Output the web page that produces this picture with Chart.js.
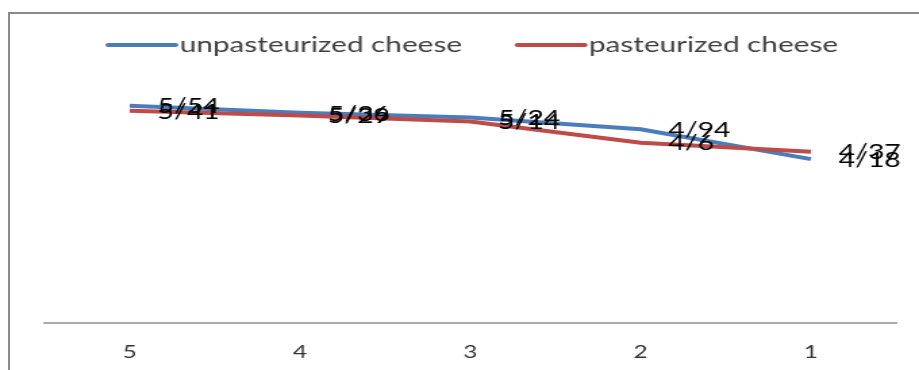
<!DOCTYPE html>
<html>
<head>
<meta charset="utf-8">
<script src="https://cdn.jsdelivr.net/npm/chart.js@4"></script>
<style>
  html, body { margin: 0; padding: 0; background: #fff; overflow: hidden; }
  #frame {
    position: absolute; left: 8px; top: 12px; width: 2000px; height: 2000px;
    border-left: 2px solid #8a8a8a; border-top: 2px solid #8a8a8a;
  }
  /* drawn narrow, then stretched sideways like the original picture */
  #wrap {
    position: absolute; left: 0; top: 0; width: 680px; height: 370px;
    transform: scaleX(1.3515); transform-origin: 0 0;
  }
</style>
</head>
<body>
<div id="frame"></div>
<div id="wrap"><canvas id="c" width="680" height="370" style="width:680px;height:370px"></canvas></div>
<script>
const categories = ['5', '4', '3', '2', '1'];
const unpasteurized = [5.54, 5.36, 5.24, 4.94, 4.18];
const pasteurized = [5.41, 5.29, 5.14, 4.6, 4.37];
const seriesNames = ['unpasteurized cheese', 'pasteurized cheese'];
const seriesColors = ['#4a7ebb', '#be4b48'];

const FONT = 'Lato';

// value labels, decimal point written as "/"
const valueLabels = {
  id: 'valueLabels',
  afterDatasetsDraw(chart) {
    const ctx = chart.ctx;
    ctx.save();
    ctx.font = '21px ' + FONT;
    ctx.fillStyle = '#000';
    ctx.textAlign = 'left';
    ctx.textBaseline = 'middle';
    chart.data.datasets.forEach((ds, i) => {
      const meta = chart.getDatasetMeta(i);
      meta.data.forEach((pt, j) => {
        ctx.fillText(String(ds.data[j]).replace('.', '/'), pt.x + 20.5, pt.y + 1);
      });
    });
    ctx.restore();
  }
};

// legend with long line samples, drawn by hand
const lineLegend = {
  id: 'lineLegend',
  afterDraw(chart) {
    const ctx = chart.ctx;
    const sample = 50, gap = 3, between = 41, y = 45;
    ctx.save();
    ctx.font = '22px ' + FONT;
    const widths = seriesNames.map(n => ctx.measureText(n).width);
    const total = widths.reduce((a, w) => a + sample + gap + w, 0) + between;
    const area = chart.chartArea;
    let x = (area.left + area.right) / 2 + 2 - total / 2;
    seriesNames.forEach((name, i) => {
      ctx.strokeStyle = seriesColors[i];
      ctx.lineWidth = 4;
      ctx.lineCap = 'round';
      ctx.beginPath();
      ctx.moveTo(x, y);
      ctx.lineTo(x + sample, y);
      ctx.stroke();
      ctx.fillStyle = '#404040';
      ctx.textBaseline = 'middle';
      ctx.fillText(name, x + sample + gap, y);
      x += sample + gap + widths[i] + between;
    });
    ctx.restore();
  }
};

new Chart(document.getElementById('c'), {
  type: 'line',
  data: {
    labels: categories,
    datasets: [
      {
        label: seriesNames[0],
        data: unpasteurized,
        borderColor: seriesColors[0],
        borderWidth: 4,
        pointRadius: 0,
        tension: 0,
        order: 1
      },
      {
        label: seriesNames[1],
        data: pasteurized,
        borderColor: seriesColors[1],
        borderWidth: 4,
        pointRadius: 0,
        tension: 0,
        order: 0
      }
    ]
  },
  options: {
    responsive: false,
    devicePixelRatio: 1,
    animation: false,
    layout: { padding: { top: 68, left: 33, right: 17, bottom: -11 } },
    plugins: {
      legend: { display: false },
      tooltip: { enabled: false }
    },
    scales: {
      x: {
        offset: true,
        grid: { display: false, drawTicks: false },
        border: { display: true, color: '#ababab', width: 2 },
        ticks: { color: '#333', padding: 18, font: { family: FONT, size: 18 } }
      },
      y: {
        display: false,
        min: 0,
        max: 6.5
      }
    }
  },
  plugins: [valueLabels, lineLegend]
});
</script>
</body>
</html>
